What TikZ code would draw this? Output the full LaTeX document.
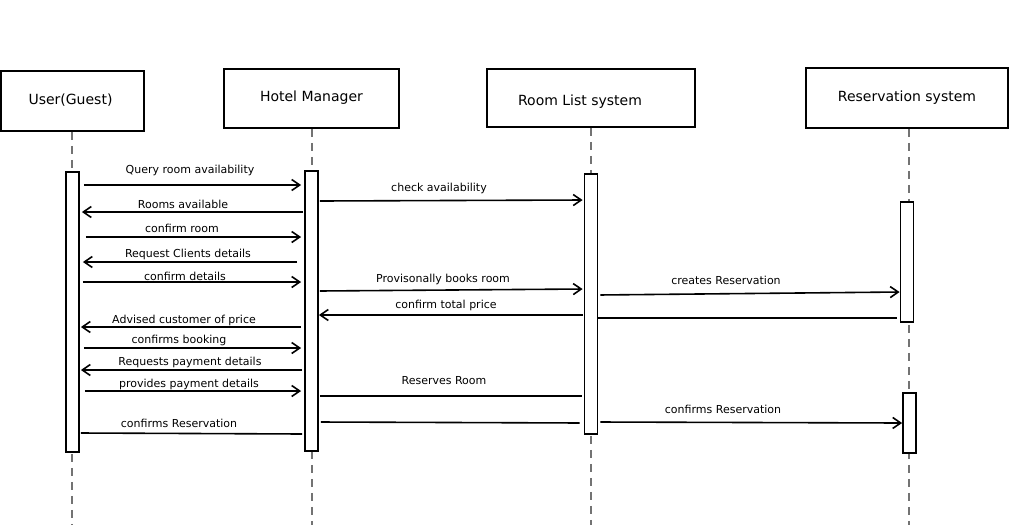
\documentclass[tikz,border=0pt]{standalone}
\usepackage{fontspec}
\setmainfont{DejaVu Sans}
\usetikzlibrary{arrows.meta}
\begin{document}
\begin{tikzpicture}[x=1pt,y=-1pt,
  hdr/.style={draw,line width=1.8pt,inner sep=0pt,text height=10.5pt,text depth=3.5pt,font=\fontsize{14}{16}\selectfont},
  bar/.style={draw,fill=white,line width=1.8pt,minimum width=13pt,inner sep=0pt},
  life/.style={draw=black!55,line width=1.3pt,dash pattern=on 8pt off 6pt},
  msg/.style={line width=1.6pt,-{Straight Barb[length=8pt,width=11pt,line width=1.6pt]}},
  ret/.style={line width=1.6pt},
  lbl/.style={font=\fontsize{11}{13}\selectfont,inner sep=0pt}]
\useasboundingbox (0,0) rectangle (1009,531);
% header boxes
\node[hdr,minimum width=143pt,minimum height=60pt] (user) at (72.5,101) {\hspace*{-4pt}User(Guest)};
\node[hdr,minimum width=175pt,minimum height=59pt] (hotel) at (311.5,98.5) {\raisebox{0.5pt}{Hotel Manager}};
\node[hdr,minimum width=208pt,minimum height=58pt] (room) at (591,98) {\hspace*{-22pt}\raisebox{-4pt}{Room List system}};
\node[hdr,minimum width=202pt,minimum height=60pt] (resv) at (907,98) {Reservation system};
% lifelines
\coordinate (uEnd) at (72,525);
\coordinate (hEnd) at (312,525);
\coordinate (rEnd) at (591,525);
\coordinate (sEnd) at (909,525);
\draw[life] (user.south -| uEnd) -- (uEnd);
\draw[life] (hotel.south -| hEnd) -- (hEnd);
\draw[life] (room.south -| rEnd) -- (rEnd);
\draw[life] (resv.south -| sEnd) -- (sEnd);
% activation bars
\node[bar,minimum height=280pt] (uA) at (72.5,312) {};
\node[bar,minimum height=280pt] (hA) at (311.5,311) {};
\node[bar,minimum height=260pt] (rA) at (591,304) {};
\node[bar,minimum height=120pt] (sA1) at (907,262) {};
\node[bar,minimum height=60pt] (sA2) at (909.5,423) {};
% messages User <-> Hotel
\draw[msg,shorten <=4pt,shorten >=3pt] (uA.east |- 0,185) -- (hA.west |- 0,185);
\node[lbl] (l1) at (190,170) {Query room availability};
\draw[msg,shorten <=1pt,shorten >=2pt] (hA.west |- 0,212) -- (uA.east |- 0,212);
\node[lbl] (l2) at (183,204) {Rooms available};
\draw[msg,shorten <=6pt,shorten >=3pt] (uA.east |- 0,237) -- (hA.west |- 0,237);
\node[lbl] (l3) at (182,228) {confirm room};
\draw[msg,shorten <=7pt,shorten >=3pt] (hA.west |- 0,262) -- (uA.east |- 0,262);
\node[lbl] (l4) at (188,254) {Request Clients details};
\draw[msg,shorten <=3pt,shorten >=3pt] (uA.east |- 0,282) -- (hA.west |- 0,282);
\node[lbl] (l5) at (185,276) {confirm details};
% Hotel <-> Room
\draw[msg,shorten <=1pt,shorten >=1pt] (hA.east |- 0,201) -- (rA.west |- 0,200);
\node[lbl] (l6) at (439,188) {check availability};
\draw[msg,shorten <=1pt,shorten >=1pt] (hA.east |- 0,291) -- (rA.west |- 0,289);
\node[lbl] (l7) at (443,279) {Provisonally books room};
\draw[msg,shorten <=1pt,shorten >=0pt] (rA.west |- 0,315) -- (hA.east |- 0,315);
\node[lbl] (l8) at (446,305) {confirm total price};
% Room <-> Reservation
\draw[msg,shorten <=2pt,shorten >=0pt] (rA.east |- 0,295) -- (sA1.west |- 0,292);
\node[lbl] (l9) at (726,280) {creates Reservation};
\draw[ret,shorten <=3pt,shorten >=0pt] (sA1.west |- 0,318) -- (rA.east |- 0,318);
% User <-> Hotel second part
\draw[msg,shorten <=3pt,shorten >=1pt] (hA.west |- 0,327) -- (uA.east |- 0,327);
\node[lbl] (l10) at (184,320) {Advised customer of price};
\draw[msg,shorten <=4pt,shorten >=3pt] (uA.east |- 0,348) -- (hA.west |- 0,348);
\node[lbl] (l11) at (179,340) {confirms booking};
\draw[msg,shorten <=2pt,shorten >=1pt] (hA.west |- 0,370) -- (uA.east |- 0,370);
\node[lbl] (l12) at (190,362) {Requests payment details};
\draw[msg,shorten <=5pt,shorten >=3pt] (uA.east |- 0,391) -- (hA.west |- 0,391);
\node[lbl] (l13) at (189,384) {provides payment details};
\draw[ret,shorten <=1pt,shorten >=2pt] (uA.east |- 0,433) -- (hA.west |- 0,434);
\node[lbl] (l14) at (179,423) {confirms Reservation};
% Hotel -> Room second part
\draw[ret,shorten <=1pt,shorten >=2pt] (hA.east |- 0,396) -- (rA.west |- 0,396);
\node[lbl] (l15) at (444,381) {Reserves Room};
\draw[ret,shorten <=2pt,shorten >=4pt] (hA.east |- 0,422) -- (rA.west |- 0,423);
% Room -> Reservation
\draw[msg,shorten <=2pt,shorten >=0pt] (rA.east |- 0,422) -- (sA2.west |- 0,423);
\node[lbl] (l16) at (723,409) {confirms Reservation};
\end{tikzpicture}
\end{document}
